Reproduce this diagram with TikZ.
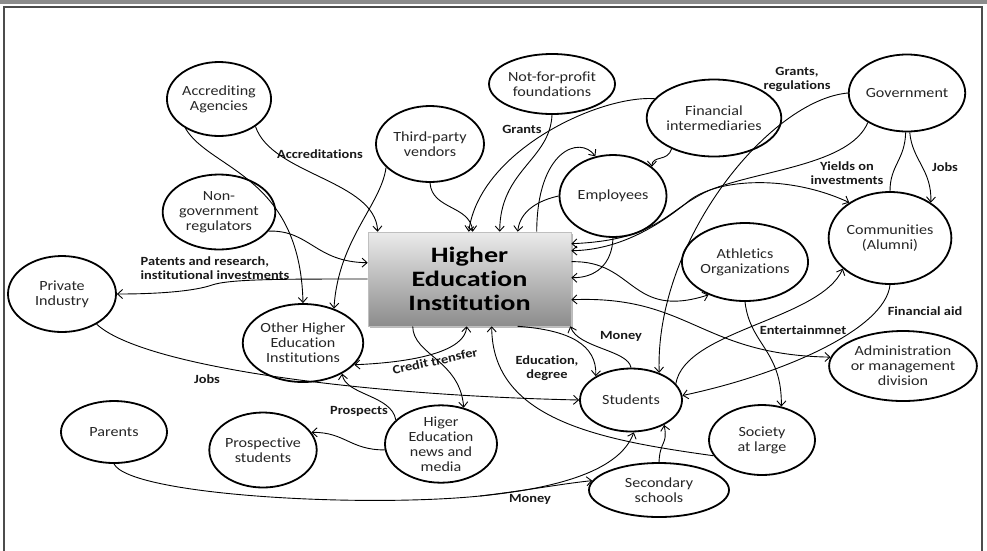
\documentclass[tikz,border=0pt]{standalone}
\usepackage{fontspec}
\setmainfont{Carlito}
\newfontfamily\nodefont[FakeStretch=1.15,Ligatures=NoCommon]{Carlito}
\newfontfamily\titlefont[FakeStretch=1.28,Ligatures=NoCommon]{Carlito}
\usetikzlibrary{shapes.geometric,arrows.meta,calc,shadows}
\begin{document}
\begin{tikzpicture}[x=1pt,y=-1pt,
  ent/.style={ellipse, draw, fill=white, line width=1.8pt, inner sep=0pt, align=center,
    font=\nodefont\fontsize{14}{15}\selectfont, text=black!85},
  lab/.style={font=\nodefont\bfseries\fontsize{12.5}{14}\selectfont, align=center, inner sep=0pt, text=black!90},
  conn/.style={line width=0.9pt, -{Straight Barb[length=5pt,width=9pt]}},
  both/.style={line width=0.9pt, {Straight Barb[length=5pt,width=9pt]}-{Straight Barb[length=5pt,width=9pt]}},
  plain/.style={line width=0.9pt}]
\useasboundingbox (0,0) rectangle (987,550);
\fill[black!45] (0,0) rectangle (987,4);
\draw[line width=1.3pt, black!70] (4,560) -- (4,7) -- (982,7) -- (982,560);

% nodes
\node[ent, minimum width=104pt, minimum height=74pt] (acc) at (219,99) {Accrediting\\Agencies};
\node[ent, minimum width=108pt, minimum height=76pt] (tpv) at (430,144) {Third-party\\vendors};
\node[ent, minimum width=104pt, minimum height=75pt] (ngr) at (219,212) {Non-\\government\\regulators};
\node[ent, minimum width=108pt, minimum height=76pt] (pri) at (62,294) {Private\\Industry};
\node[ent, minimum width=116pt, minimum height=78pt] (ohe) at (303,343) {Other Higher\\Education\\Institutions};
\node[ent, minimum width=106pt, minimum height=62pt] (par) at (114,432) {Parents};
\node[ent, minimum width=106pt, minimum height=75pt] (pro) at (263,450) {Prospective\\students};
\node[ent, minimum width=112pt, minimum height=76pt] (news) at (441,444) {Higer\\Education\\news and\\media};
\node[ent, minimum width=126pt, minimum height=60pt] (nfp) at (552,84) {Not-for-profit\\foundations};
\node[ent, minimum width=114pt, minimum height=77pt] (fin) at (714,118) {Financial\\intermediaries};
\node[ent, minimum width=116pt, minimum height=77pt] (gov) at (907,93) {Government};
\node[ent, minimum width=107pt, minimum height=82pt] (emp) at (613,196) {Employees};
\node[ent, minimum width=115pt, minimum height=92pt] (com) at (890,238) {Communities\\(Alumni)};
\node[ent, minimum width=106pt, minimum height=78pt] (ath) at (745,262) {Athletics\\Organizations};
\node[ent, minimum width=102pt, minimum height=63pt] (stu) at (631,400) {Students};
\node[ent, minimum width=142pt, minimum height=70pt] (adm) at (903,366) {Administration\\or management\\division};
\node[ent, minimum width=106pt, minimum height=70pt] (soc) at (762,440) {Society\\at large};
\node[ent, minimum width=140pt, minimum height=54pt] (sec) at (659,490) {Secondary\\schools};

\node[draw=black!25, line width=0.6pt, top color=black!8, bottom color=black!45,
  minimum width=203pt, minimum height=94pt, inner sep=0pt, align=center,
  font=\titlefont\bfseries\fontsize{22}{24}\selectfont,
  drop shadow={shadow xshift=2pt, shadow yshift=-2pt, fill=black!45, opacity=0.6}]
  (hei) at (469.5,279) {Higher\\Education\\Institution};

% labels
\node[lab] (lacc) at (320,154) {Accreditations};
\node[lab] (lgr) at (522,129) {Grants};
\node[lab] (lgreg) at (797,79) {Grants,\\regulations};
\node[lab] (lyield) at (847,173) {Yields on\\investments};
\node[lab] (ljobs1) at (945,167) {Jobs};
\node[lab, align=left] (lpat) at (215,268) {Patents and research,\\institutional investments};
\node[lab] (ljobs2) at (207,379) {Jobs};
\node[lab] (lprosp) at (359,411) {Prospects};
\node[lab, rotate=12] (lcred) at (435,361) {Credit trensfer};
\node[lab] (ledu) at (547,368) {Education,\\degree};
\node[lab] (lmon1) at (621,336) {Money};
\node[lab] (lent) at (803,330) {Entertainmnet};
\node[lab] (lfin) at (925,311) {Financial aid};
\node[lab] (lmon2) at (530,499) {Money};

% connectors
\draw[conn] (acc.-37) .. controls (272,175) and (375,180) .. ($(hei.north west)+(10,0)$);
\draw[conn] (acc.-139) .. controls (210,170) and (300,175) .. (ohe.north);
\draw[conn] (tpv.-152) .. controls (381,205) and (338,240) .. (ohe.48);
\draw[conn] (tpv.south) .. controls (432,210) and (470,205) .. ($(hei.north west)+(105,0)$);
\draw[conn] (fin.162) .. controls (600,95) and (480,150) .. ($(hei.north west)+(101,0)$);
\draw[conn] (nfp.south) .. controls (550,160) and (500,170) .. ($(hei.north west)+(132,0)$);
\draw[conn] (emp.west) .. controls (540,200) and (520,210) .. ($(hei.north west)+(150,0)$);
\draw[conn] ($(hei.north west)+(169,0)$) .. controls (537,150) and (580,135) .. (emp.114);
\draw[conn] (fin.-144) .. controls (668,162) and (652,155) .. (emp.37);
\draw[conn] (gov.-143) .. controls (850,165) and (760,170) .. (710,190) .. controls (665,210) and (660,240) .. ($(hei.north east)+(0,12)$);
\draw[both] (com.139) .. controls (790,175) and (720,178) .. (690,200) .. controls (660,225) and (620,250) .. ($(hei.north east)+(0,19)$);
\draw[conn] (gov.180) .. controls (770,100) and (655,240) .. (stu.44);
\draw[conn] (gov.-86) .. controls (912,160) and (932,170) .. (com.41);
\draw[plain] (gov.-92) .. controls (905,160) and (890,165) .. (com.north);
\draw[conn] ($(hei.north east)+(0,30)$) .. controls (635,260) and (630,320) .. (ath.-138);
\draw[conn] (emp.south) .. controls (612,265) and (595,278) .. ($(hei.north east)+(0,46)$);
\draw[both] ($(hei.north east)+(0,68)$) .. controls (690,295) and (700,355) .. (adm.173);
\draw[conn] (stu.20) .. controls (685,330) and (820,320) .. (com.-147);
\draw[conn] (com.south) .. controls (885,330) and (780,375) .. (stu.5);
\draw[conn] (ath.south) .. controls (750,345) and (782,350) .. (soc.60);
\draw[conn] (stu.north) .. controls (628,350) and (578,348) .. ($(hei.south east)+(-1,0)$);
\draw[conn] ($(hei.south west)+(150,0)$) .. controls (570,330) and (597,345) .. (stu.146);
\draw[conn] (soc.-162) .. controls (600,440) and (492,420) .. ($(hei.south west)+(124,0)$);
\draw[conn] (sec.north) .. controls (660,440) and (668,445) .. (stu.-37);
\coordinate (pm) at (480,496);
\draw[plain] (par.south) .. controls (130,495) and (360,508) .. (pm);
\draw[conn] (pm) .. controls (560,488) and (620,470) .. (stu.-85);
\draw[conn] (pm) .. controls (530,490) and (560,484) .. (sec.172);
\draw[conn] (pri.-41) .. controls (140,365) and (350,395) .. (stu.west);
\draw[conn] (hei.west) .. controls (280,279) and (230,279) .. (212,285) .. controls (195,291) and (160,294) .. (pri.east);
\draw[conn] (ngr.-21) .. controls (310,230) and (315,262) .. ($(hei.north west)+(0,31)$);
\draw[both] (ohe.-23) .. controls (420,362) and (465,350) .. ($(hei.south west)+(99,0)$);
\draw[conn] ($(hei.south west)+(45,0)$) .. controls (413,355) and (460,360) .. (news.58);
\draw[conn] (news.152) .. controls (392,395) and (345,395) .. (ohe.-38);
\draw[conn] (news.186) .. controls (350,450) and (345,432) .. (pro.20);
\end{tikzpicture}
\end{document}
